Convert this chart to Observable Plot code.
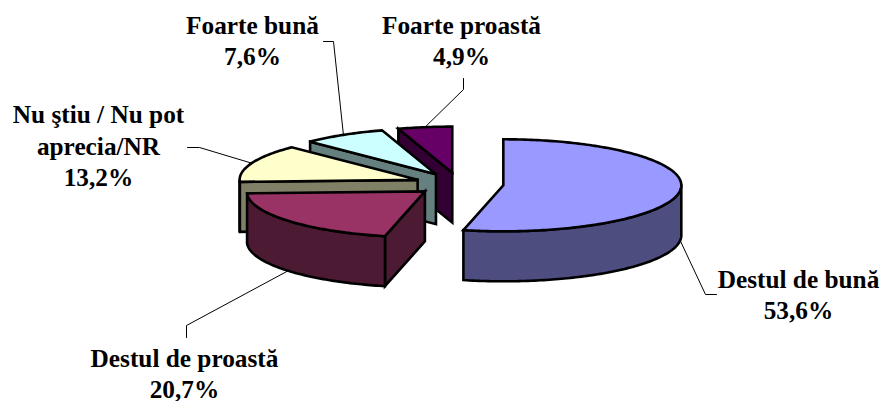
<!DOCTYPE html>
<html>
<head>
<meta charset="utf-8">
<script src="https://cdn.jsdelivr.net/npm/d3@7"></script>
<script src="https://cdn.jsdelivr.net/npm/@observablehq/plot@0.6"></script>
<style>
html,body{margin:0;padding:0;background:#fff}
svg{display:block}
</style>
</head>
<body>
<div id="chart"></div>
<script>
const categories = ["Destul de bună", "Destul de proastă", "Nu ştiu / Nu pot\naprecia/NR", "Foarte bună", "Foarte proastă"];
const shares = [53.6, 20.7, 13.2, 7.6, 4.9];
const topColors = ["#9999FF", "#993366", "#FFFFCC", "#CCFFFF", "#660066"];
const wallColors = ["#4D4D80", "#4D1A33", "#808066", "#668080", "#330033"];
const labelX = [798, 184, 98, 252, 461];
const labelY = [293, 372, 144, 39, 39];
// label-side start and elbow of each leader line
const leaderStart = [[716, 294], [186, 337], [187, 147], [323, 41], [463, 78]];
const leaderElbow = [[705, 294], [186, 325], [199, 147], [333, 41], [463, 89]];

// pie geometry: a tilted ellipse, every slice pulled out along its mid-angle
const cx = 458.6, cy = 183.5, rx = 178, ry = 46, depth = 50, explode = 0.25;
const rad = d => d * Math.PI / 180;
const total = d3.sum(shares);
let acc = 0;
const slices = shares.map((v, i) => {
  const a0 = acc / total * 360;
  acc += v;
  const a1 = acc / total * 360;
  const mid = (a0 + a1) / 2;
  return {i, a0, a1, mid,
    ax: cx + explode * rx * Math.sin(rad(mid)),
    ay: cy - explode * ry * Math.cos(rad(mid))};
});
const rim = (s, a, dz = 0) => [s.ax + rx * Math.sin(rad(a)), s.ay - ry * Math.cos(rad(a)) + dz];
const arc = (s, a0, a1, dz = 0) => {
  const n = Math.max(2, Math.ceil(Math.abs(a1 - a0)));
  return d3.range(n + 1).map(k => rim(s, a0 + (a1 - a0) * k / n, dz));
};

const polys = [];
let id = 0;
const add = (pts, fill) => {
  const g = id++;
  [...pts, pts[0], pts[1]].forEach(p => polys.push({g, x: p[0], y: p[1], fill}));
};
// back to front
[...slices].reverse().forEach(s => {
  // radial wall on the slice's leading edge
  if (s.a0 > 180) {
    const r = rim(s, s.a0);
    add([[s.ax, s.ay], r, [r[0], r[1] + depth], [s.ax, s.ay + depth]], wallColors[s.i]);
  }
  // outer curved wall, front half only
  const w0 = Math.max(s.a0, 90), w1 = Math.min(s.a1, 270);
  if (w1 > w0) add([...arc(s, w0, w1), ...arc(s, w1, w0, depth)], wallColors[s.i]);
  // top face
  add([[s.ax, s.ay], ...arc(s, s.a0, s.a1)], topColors[s.i]);
});

const leaders = slices.flatMap(s => {
  const front = Math.cos(rad(s.mid)) < 0;
  const end = rim(s, s.mid, front ? depth : 0);
  return [leaderStart[s.i], leaderElbow[s.i], end].map(p => ({i: s.i, x: p[0], y: p[1]}));
});

const labels = slices.map(s => ({
  x: labelX[s.i], y: labelY[s.i],
  text: categories[s.i] + "\n" + shares[s.i].toFixed(1).replace(".", ",") + "%"
}));

const plot = Plot.plot({
  width: 883, height: 401,
  margin: 0,
  x: {domain: [0, 883], range: [0, 883], axis: null},
  y: {domain: [0, 401], range: [0, 401], axis: null},
  style: {background: "#fff"},
  marks: [
    Plot.line(leaders, {x: "x", y: "y", z: "i", stroke: "#000", strokeWidth: 1}),
    Plot.line(polys, {x: "x", y: "y", z: "g", fill: "fill", stroke: "#000", strokeWidth: 2.6, strokeLinejoin: "miter", strokeMiterlimit: 4}),
    Plot.text(labels, {x: "x", y: "y", text: "text", fontFamily: "Liberation Serif", fontWeight: "bold", fontSize: 25.3, lineHeight: 1.25, fill: "#000", textAnchor: "middle"})
  ]
});
document.getElementById("chart").appendChild(plot);
</script>
</body>
</html>
